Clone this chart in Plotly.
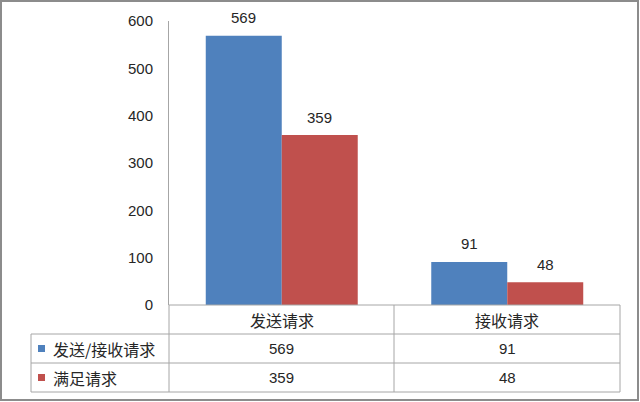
import plotly.graph_objects as go

categories = ["发送请求", "接收请求"]
series_names = ["发送/接收请求", "满足请求"]
send_recv = [569, 91]
satisfied = [359, 48]
colors = ["#4F81BD", "#C0504D"]
y_ticks = [0, 100, 200, 300, 400, 500, 600]

W, H = 640, 402
def px(x): return x / W
def py(y): return 1 - y / H

NUM_FONT = "Liberation Sans, Noto Sans CJK SC, sans-serif"
CJK_FONT = "Noto Sans CJK SC, Liberation Sans, sans-serif"
TXT = "#262626"
GRID = "#a6a6a6"

fig = go.Figure()
series = [send_recv, satisfied]
for name, vals, c in zip(series_names, series, colors):
    fig.add_trace(go.Bar(x=categories, y=vals, name=name, marker=dict(color=c, line=dict(width=0))))

for i, vals in enumerate(series):
    shift = -38 if i == 0 else 38
    for cat, v in zip(categories, vals):
        fig.add_annotation(x=cat, y=v, text=str(v), showarrow=False, xref="x", yref="y",
                           xanchor="center", yanchor="middle",
                           xshift=shift, yshift=18, font=dict(family=NUM_FONT, size=15, color=TXT))

L, R, T, B = 169, 620, 21, 305
rows_y = [305, 334, 363, 392]
left_tab = 31
mid_x = 394

shapes = []
def line(x0, y0, x1, y1, color=GRID, w=1):
    shapes.append(dict(type="line", xref="paper", yref="paper", x0=px(x0), y0=py(y0), x1=px(x1), y1=py(y1),
                       line=dict(color=color, width=w)))

line(L, rows_y[0], R, rows_y[0])
for y in rows_y[1:]:
    line(left_tab, y, R, y)
line(L, rows_y[0], L, rows_y[3])
line(mid_x, rows_y[0], mid_x, rows_y[3])
line(R, rows_y[0], R, rows_y[3])
line(left_tab, rows_y[1], left_tab, rows_y[3])
shapes.append(dict(type="rect", xref="paper", yref="paper", x0=px(1), y0=py(400), x1=px(638), y1=py(1),
                   line=dict(color="#8c8c8c", width=2)))

for cat in categories:
    fig.add_annotation(x=cat, y=py((rows_y[0] + rows_y[1]) / 2), xref="x", yref="paper", text=cat,
                       xanchor="center", yanchor="middle",
                       showarrow=False, font=dict(family=CJK_FONT, size=16, color=TXT))
for r, (name, vals, c) in enumerate(zip(series_names, series, colors)):
    yc = (rows_y[r + 1] + rows_y[r + 2]) / 2
    shapes.append(dict(type="rect", xref="paper", yref="paper", x0=px(38), x1=px(45),
                       y0=py(yc + 3.5), y1=py(yc - 3.5), line=dict(width=0), fillcolor=c))
    fig.add_annotation(x=px(51), y=py(yc), xref="paper", yref="paper", text=name, showarrow=False,
                       xanchor="left", yanchor="middle", font=dict(family=CJK_FONT, size=16, color=TXT))
    for cat, v in zip(categories, vals):
        fig.add_annotation(x=cat, y=py(yc), xref="x", yref="paper", text=str(v), showarrow=False,
                           xanchor="center", yanchor="middle",
                           font=dict(family=NUM_FONT, size=15, color=TXT))

fig.update_layout(
    width=W, height=H, margin=dict(l=0, r=0, t=0, b=0, pad=0, autoexpand=False),
    paper_bgcolor="white", plot_bgcolor="white",
    barmode="group", bargap=0.326, bargroupgap=0,
    showlegend=False, shapes=shapes,
    xaxis=dict(domain=[px(L), px(R)], range=[-0.5, 1.5], showticklabels=False, showline=False,
               showgrid=False, zeroline=False, fixedrange=True, automargin=False),
    yaxis=dict(domain=[py(B), py(T)], range=[0, 600], tickvals=y_ticks, showgrid=False, zeroline=False,
               showline=True, linecolor=GRID, linewidth=1, ticks="", ticklabelstandoff=12, automargin=False,
               tickfont=dict(family=NUM_FONT, size=15, color=TXT)),
)

fig.write_html("out.html", config={"responsive": False, "displayModeBar": False},
               post_script="document.body.style.margin='0';document.body.style.overflow='hidden';")
